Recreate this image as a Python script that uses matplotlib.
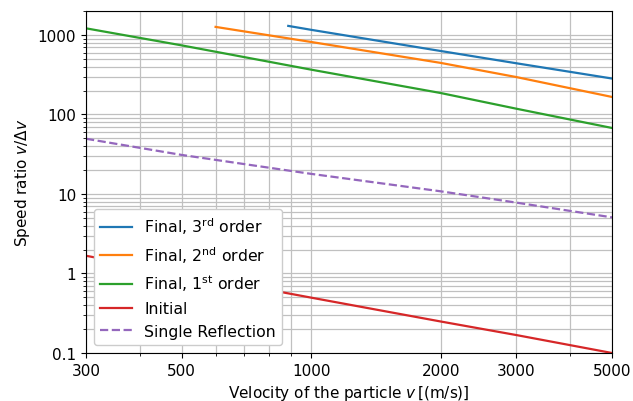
import numpy as np
import matplotlib
matplotlib.use("Agg")
import matplotlib.pyplot as plt
from matplotlib.ticker import FixedLocator, FixedFormatter, NullFormatter, LogLocator

plt.rcParams['font.size'] = 11

# values (v in m/s, speed ratio v/dv)
v_3rd = [885, 1000, 2000, 3000, 5000]
r_3rd = [1299, 1160, 628, 440, 283]

v_2nd = [600, 1000, 2000, 3000, 5000]
r_2nd = [1262, 816, 445, 295, 166]

v_1st = [300, 500, 1000, 2000, 3000, 5000]
r_1st = [1211, 740, 366, 186, 118, 67.6]

v_init = [300, 500, 1000, 2000, 3000, 5000]
r_init = [1.67, 1.0, 0.497, 0.249, 0.168, 0.100]

v_single = [300, 500, 1000, 2000, 3000, 5000]
r_single = [49.5, 31, 17.9, 10.8, 7.78, 5.08]

x_ticks = [300, 500, 1000, 2000, 3000, 5000]
y_ticks = [0.1, 1, 10, 100, 1000]
y_labels = ["0.1", "1", "10", "100", "1000"]

fig = plt.figure(figsize=(6.33, 4.02), dpi=100)
ax = fig.add_axes([86/633, 48/402, 526/633, 342/402])

ax.plot(v_3rd, r_3rd, color='C0', lw=1.6, label=r'Final, 3$^{\rm rd}$ order')
ax.plot(v_2nd, r_2nd, color='C1', lw=1.6, label=r'Final, 2$^{\rm nd}$ order')
ax.plot(v_1st, r_1st, color='C2', lw=1.6, label=r'Final, 1$^{\rm st}$ order')
ax.plot(v_init, r_init, color='C3', lw=1.6, label='Initial')
ax.plot(v_single, r_single, color='C4', lw=1.6, ls='--', label='Single Reflection')

ax.set_xscale('log')
ax.set_yscale('log')
ax.set_xlim(300, 5000)
ax.set_ylim(0.1, 2000)

ax.xaxis.set_major_locator(FixedLocator(x_ticks))
ax.xaxis.set_major_formatter(FixedFormatter([str(t) for t in x_ticks]))
ax.xaxis.set_minor_locator(LogLocator(base=10, subs=np.arange(2, 10)))
ax.xaxis.set_minor_formatter(NullFormatter())
ax.yaxis.set_major_locator(FixedLocator(y_ticks))
ax.yaxis.set_major_formatter(FixedFormatter(y_labels))
ax.yaxis.set_minor_locator(LogLocator(base=10, subs=np.arange(2, 10)))
ax.yaxis.set_minor_formatter(NullFormatter())

ax.grid(True, which='both', color='#c0c0c0', lw=0.9)
ax.set_axisbelow(True)

ax.set_xlabel(r'Velocity of the particle $v\,$[(m/s)]')
ax.set_ylabel(r'Speed ratio $v/\Delta v$')

ax.legend(loc='lower left', framealpha=1, fontsize=11.3)

fig.savefig('out.png', dpi=100)
